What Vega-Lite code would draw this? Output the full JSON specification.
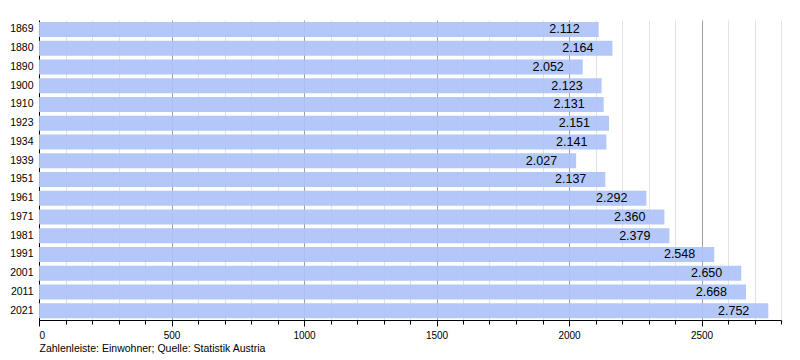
{
  "$schema": "https://vega.github.io/schema/vega-lite/v6.json",
  "autosize": "none",
  "width": 742,
  "height": 300,
  "padding": {"left": 39, "top": 20, "right": 19, "bottom": 40},
  "background": "white",
  "config": {
    "font": "Liberation Sans",
    "view": {"stroke": null},
    "locale": {"number": {"decimal": ",", "thousands": ".", "grouping": [3], "currency": ["", " €"]}}
  },
  "data": {
    "values": [
      {"year": "1869", "value": 2112},
      {"year": "1880", "value": 2164},
      {"year": "1890", "value": 2052},
      {"year": "1900", "value": 2123},
      {"year": "1910", "value": 2131},
      {"year": "1923", "value": 2151},
      {"year": "1934", "value": 2141},
      {"year": "1939", "value": 2027},
      {"year": "1951", "value": 2137},
      {"year": "1961", "value": 2292},
      {"year": "1971", "value": 2360},
      {"year": "1981", "value": 2379},
      {"year": "1991", "value": 2548},
      {"year": "2001", "value": 2650},
      {"year": "2011", "value": 2668},
      {"year": "2021", "value": 2752}
    ]
  },
  "encoding": {
    "y": {
      "field": "year", "type": "nominal", "sort": null,
      "scale": {"paddingInner": 0.2, "paddingOuter": 0.1},
      "axis": {
        "title": null, "ticks": false, "domainColor": "#000", "domainWidth": 1,
        "labelFontSize": 10.5, "labelColor": "#000", "labelPadding": 6
      }
    },
    "x": {
      "field": "value", "type": "quantitative",
      "scale": {"domain": [0, 2800], "nice": false},
      "axis": {
        "orient": "bottom",
        "values": [0,100,200,300,400,500,600,700,800,900,1000,1100,1200,1300,1400,1500,1600,1700,1800,1900,2000,2100,2200,2300,2400,2500,2600,2700,2800],
        "format": "d",
        "labelExpr": "datum.value % 500 === 0 ? datum.label : ''",
        "labelOverlap": false,
        "grid": true,
        "gridColor": {"condition": {"test": "datum.value % 500 === 0", "value": "#a0a0a0"}, "value": "#e2e2e2"},
        "tickColor": "#000",
        "tickSize": {"condition": {"test": "datum.value % 500 === 0", "value": 6}, "value": 4},
        "labelFontSize": 10,
        "labelColor": "#000",
        "labelPadding": 4,
        "domainColor": "#000",
        "domainWidth": 1,
        "title": "Zahlenleiste: Einwohner; Quelle: Statistik Austria",
        "titleAnchor": "start",
        "titleAlign": "left",
        "titleFontWeight": "normal",
        "titleFontSize": 10.5,
        "titleColor": "#000",
        "titlePadding": 3
      }
    }
  },
  "layer": [
    {"mark": {"type": "bar", "color": "#adc3f8", "opacity": 0.92}},
    {
      "mark": {"type": "text", "align": "right", "baseline": "middle", "dx": -19, "fontSize": 12.5, "color": "#000"},
      "encoding": {"text": {"field": "value", "type": "quantitative", "format": ",d"}}
    }
  ]
}
